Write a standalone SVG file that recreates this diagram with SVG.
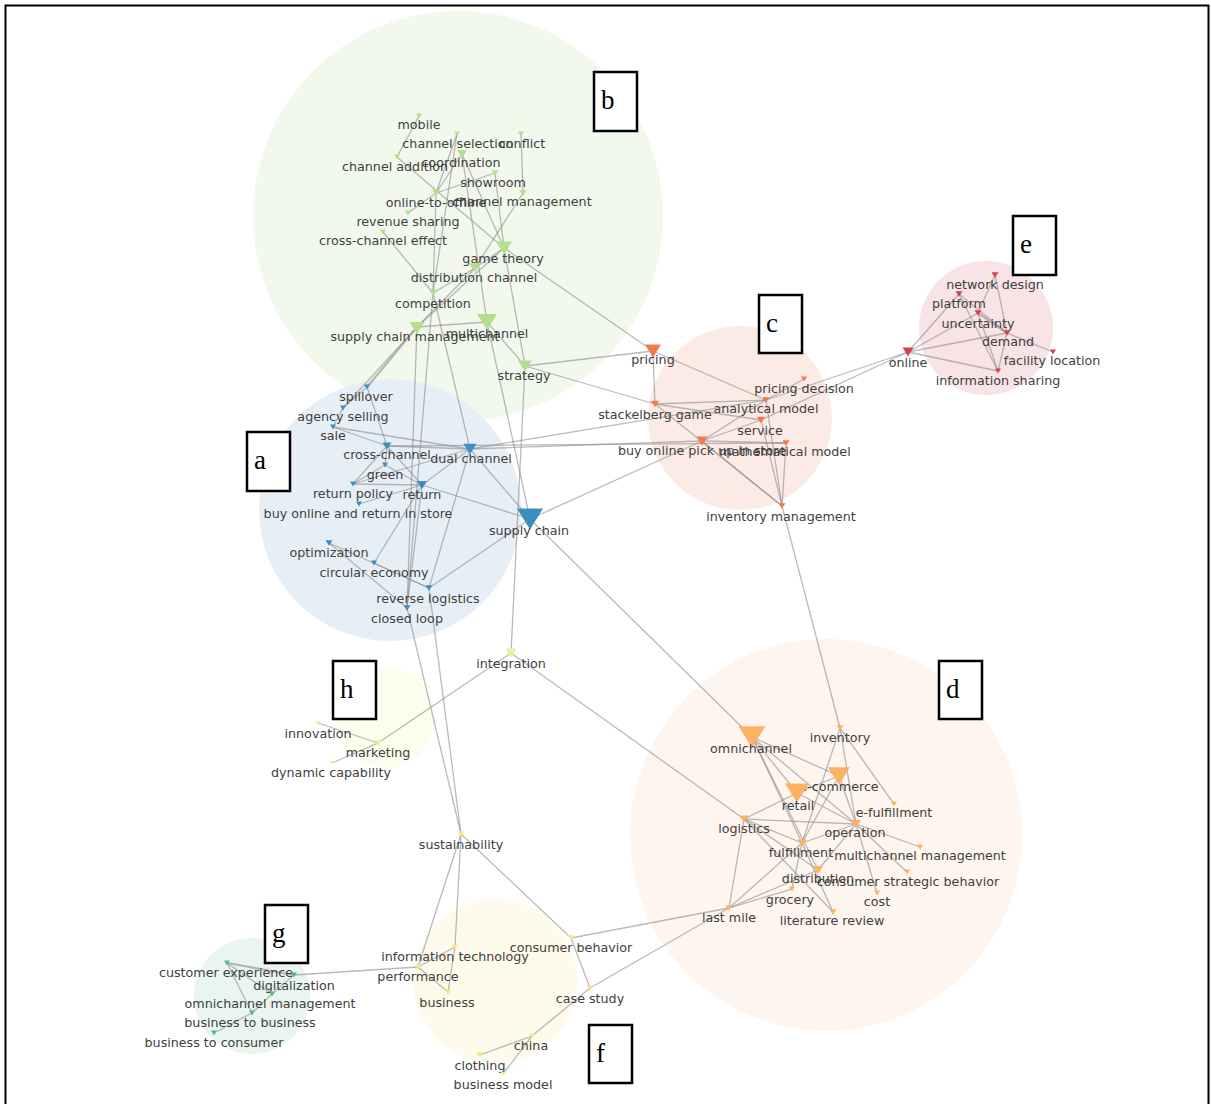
<svg xmlns="http://www.w3.org/2000/svg" width="1211" height="1104" viewBox="0 0 1211 1104">
<style>
.lb{font-family:"DejaVu Sans",Verdana,sans-serif;font-size:12.7px;fill:#404040;text-anchor:middle}
.e line{stroke:#8c8c8c;stroke-opacity:0.6;stroke-width:1.3}
.e line.t{stroke-width:2.2}
.box rect{fill:#fff;stroke:#000;stroke-width:2.5}
.box text{font-family:"Liberation Serif","Times New Roman",serif;font-size:27px;fill:#000}
.ca use{fill:#3a8fc0}.cb use{fill:#b4df8c}.cc use{fill:#f5784a}.cd use{fill:#fdb162}
.ce use{fill:#d9404f}.cf use{fill:#fde28c}.cg use{fill:#52b892}.ch use{fill:#e8f49c}
</style>
<defs><path id="tri" d="M-0.5,-0.4L0.5,-0.4L0,0.4Z"/></defs>
<rect x="0" y="0" width="1211" height="1104" fill="#fff"/>
<rect x="5.5" y="5.5" width="1203" height="1110" fill="none" stroke="#000" stroke-width="2"/>
<g id="clusters">
<circle cx="458" cy="216" r="205" fill="#f3f8ec"/>
<circle cx="390" cy="510" r="131" fill="#e7eff6"/>
<circle cx="740" cy="418" r="92" fill="#fcebe5"/>
<circle cx="986" cy="328" r="67" fill="#f8e3e6"/>
<circle cx="826" cy="835" r="196" fill="#fdf5ee"/>
<circle cx="495" cy="981" r="82" fill="#fefaec"/>
<circle cx="252" cy="996" r="58" fill="#e9f5ef"/>
<circle cx="385" cy="718" r="50" fill="#fdfdee"/>
</g>
<g id="connectors" class="e">
<line x1="419" y1="116" x2="397" y2="157"/><line x1="397" y1="157" x2="504" y2="248"/>
<line x1="457" y1="134" x2="436" y2="193"/><line x1="457" y1="134" x2="433" y2="293"/>
<line x1="521" y1="134" x2="523" y2="193"/><line x1="462" y1="154" x2="487" y2="322"/>
<line x1="462" y1="154" x2="504" y2="248"/><line x1="462" y1="154" x2="436" y2="193"/>
<line x1="495" y1="173" x2="436" y2="193"/><line x1="495" y1="173" x2="504" y2="248"/>
<line x1="523" y1="193" x2="475" y2="268"/><line x1="475" y1="268" x2="417" y2="327"/>
<line x1="436" y1="193" x2="433" y2="293"/><line x1="408" y1="213" x2="436" y2="193"/>
<line x1="383" y1="232" x2="433" y2="293"/><line x1="504" y1="248" x2="653" y2="351"/>
<line x1="504" y1="248" x2="417" y2="327"/><line x1="504" y1="248" x2="475" y2="268"/>
<line x1="475" y1="268" x2="433" y2="293"/><line x1="504" y1="248" x2="525" y2="366"/>
<line x1="417" y1="327" x2="487" y2="322"/><line x1="487" y1="322" x2="525" y2="366"/>
<line x1="525" y1="366" x2="653" y2="351"/><line x1="525" y1="366" x2="655" y2="404"/>
<line x1="525" y1="366" x2="511" y2="653"/><line x1="487" y1="322" x2="530" y2="519"/>
<line x1="433" y1="293" x2="470" y2="449"/><line x1="433" y1="293" x2="407" y2="608"/>
<line x1="417" y1="327" x2="407" y2="608"/><line class="t" x1="417" y1="327" x2="367" y2="387"/>
<line x1="417" y1="327" x2="343" y2="408"/><line x1="367" y1="387" x2="343" y2="408"/>
<line x1="343" y1="408" x2="333" y2="427"/><line x1="367" y1="387" x2="387" y2="446"/>
<line x1="333" y1="427" x2="387" y2="446"/><line x1="333" y1="427" x2="470" y2="449"/>
<line x1="387" y1="446" x2="470" y2="449"/><line x1="387" y1="446" x2="385" y2="465"/>
<line x1="387" y1="446" x2="353" y2="484"/><line x1="387" y1="446" x2="422" y2="485"/>
<line x1="385" y1="465" x2="353" y2="484"/><line x1="385" y1="465" x2="422" y2="485"/>
<line x1="353" y1="484" x2="422" y2="485"/><line x1="470" y1="449" x2="353" y2="484"/>
<line x1="470" y1="449" x2="422" y2="485"/><line x1="470" y1="449" x2="530" y2="519"/>
<line x1="422" y1="485" x2="530" y2="519"/><line x1="359" y1="504" x2="422" y2="485"/>
<line x1="422" y1="485" x2="407" y2="608"/><line x1="470" y1="449" x2="429" y2="588"/>
<line x1="530" y1="519" x2="429" y2="588"/><line x1="329" y1="543" x2="429" y2="588"/>
<line x1="329" y1="543" x2="407" y2="608"/><line x1="374" y1="563" x2="429" y2="588"/>
<line x1="374" y1="563" x2="422" y2="485"/><line x1="407" y1="608" x2="461" y2="834"/>
<line x1="429" y1="588" x2="461" y2="834"/><line x1="387" y1="446" x2="786" y2="443"/>
<line x1="470" y1="449" x2="702" y2="441"/><line x1="470" y1="449" x2="766" y2="400"/>
<line x1="530" y1="519" x2="702" y2="441"/><line x1="530" y1="519" x2="752" y2="737"/>
<line x1="653" y1="351" x2="655" y2="404"/><line x1="653" y1="351" x2="766" y2="400"/>
<line x1="655" y1="404" x2="766" y2="400"/><line x1="655" y1="404" x2="761" y2="420"/>
<line x1="655" y1="404" x2="782" y2="506"/><line x1="702" y1="441" x2="766" y2="400"/>
<line x1="702" y1="441" x2="761" y2="420"/><line x1="702" y1="441" x2="786" y2="443"/>
<line x1="702" y1="441" x2="782" y2="506"/><line x1="766" y1="400" x2="782" y2="506"/>
<line x1="761" y1="420" x2="782" y2="506"/><line x1="786" y1="443" x2="782" y2="506"/>
<line x1="804" y1="379" x2="766" y2="400"/><line x1="908" y1="352" x2="766" y2="400"/>
<line x1="908" y1="352" x2="761" y2="420"/><line x1="782" y1="506" x2="840" y2="728"/>
<line x1="908" y1="352" x2="959" y2="294"/><line x1="908" y1="352" x2="978" y2="313"/>
<line x1="908" y1="352" x2="1007" y2="333"/><line x1="908" y1="352" x2="998" y2="371"/>
<line x1="995" y1="275" x2="1007" y2="333"/><line x1="995" y1="275" x2="978" y2="313"/>
<line x1="959" y1="294" x2="998" y2="371"/><line x1="959" y1="294" x2="1007" y2="333"/>
<line class="t" x1="978" y1="313" x2="1007" y2="333"/><line x1="978" y1="313" x2="998" y2="371"/>
<line x1="1007" y1="333" x2="1053" y2="352"/><line x1="1007" y1="333" x2="998" y2="371"/>
<line x1="840" y1="728" x2="894" y2="804"/><line x1="840" y1="728" x2="856" y2="824"/>
<line x1="840" y1="728" x2="802" y2="843"/><line x1="752" y1="737" x2="839" y2="776"/>
<line x1="752" y1="737" x2="797" y2="793"/><line x1="752" y1="737" x2="856" y2="824"/>
<line x1="752" y1="737" x2="802" y2="843"/><line x1="752" y1="737" x2="818" y2="870"/>
<line x1="839" y1="776" x2="797" y2="793"/><line x1="839" y1="776" x2="856" y2="824"/>
<line x1="839" y1="776" x2="802" y2="843"/><line x1="797" y1="793" x2="744" y2="819"/>
<line x1="797" y1="793" x2="856" y2="824"/><line x1="744" y1="819" x2="856" y2="824"/>
<line x1="744" y1="819" x2="802" y2="843"/><line x1="744" y1="819" x2="818" y2="870"/>
<line x1="744" y1="819" x2="833" y2="912"/><line x1="744" y1="819" x2="729" y2="908"/>
<line x1="856" y1="824" x2="802" y2="843"/><line x1="856" y1="824" x2="920" y2="847"/>
<line x1="856" y1="824" x2="907" y2="872"/><line x1="856" y1="824" x2="877" y2="893"/>
<line x1="856" y1="824" x2="818" y2="870"/><line x1="802" y1="843" x2="729" y2="908"/>
<line x1="802" y1="843" x2="792" y2="889"/><line x1="818" y1="870" x2="729" y2="908"/>
<line x1="792" y1="889" x2="729" y2="908"/><line x1="802" y1="843" x2="833" y2="912"/>
<line x1="511" y1="653" x2="744" y2="819"/><line x1="511" y1="653" x2="378" y2="743"/>
<line x1="318" y1="723" x2="378" y2="743"/><line x1="332" y1="763" x2="378" y2="743"/>
<line x1="461" y1="834" x2="455" y2="947"/><line x1="461" y1="834" x2="418" y2="967"/>
<line x1="461" y1="834" x2="571" y2="938"/><line x1="455" y1="947" x2="418" y2="967"/>
<line x1="455" y1="947" x2="448" y2="992"/><line x1="418" y1="967" x2="448" y2="992"/>
<line x1="571" y1="938" x2="590" y2="988"/><line x1="571" y1="938" x2="729" y2="908"/>
<line x1="590" y1="988" x2="729" y2="908"/><line x1="590" y1="988" x2="532" y2="1036"/>
<line x1="532" y1="1036" x2="480" y2="1055"/><line x1="532" y1="1036" x2="503" y2="1074"/>
<line x1="418" y1="967" x2="294" y2="975"/><line class="t" x1="227" y1="963" x2="294" y2="975"/>
<line x1="227" y1="963" x2="272" y2="994"/><line x1="294" y1="975" x2="272" y2="994"/>
<line x1="272" y1="994" x2="252" y2="1013"/><line x1="252" y1="1013" x2="214" y2="1033"/>
<line x1="227" y1="963" x2="252" y2="1013"/>
</g>
<g id="nodes">
<g id="n-mobile" class="cb"><use href="#tri" transform="translate(419,116) scale(6)"/><text class="lb" x="419" y="129">mobile</text></g>
<g id="n-channel-selection" class="cb"><use href="#tri" transform="translate(457,134) scale(6)"/><text class="lb" x="458" y="148">channel selection</text></g>
<g id="n-conflict" class="cb"><use href="#tri" transform="translate(521,134) scale(6)"/><text class="lb" x="522" y="148">conflict</text></g>
<g id="n-coordination" class="cb"><use href="#tri" transform="translate(462,154) scale(10)"/><text class="lb" x="461" y="167">coordination</text></g>
<g id="n-channel-addition" class="cb"><use href="#tri" transform="translate(397,157) scale(6)"/><text class="lb" x="395" y="171">channel addition</text></g>
<g id="n-showroom" class="cb"><use href="#tri" transform="translate(495,173) scale(7)"/><text class="lb" x="493" y="187">showroom</text></g>
<g id="n-online-to-offline" class="cb"><use href="#tri" transform="translate(436,193) scale(8)"/><text class="lb" x="436" y="207">online-to-offline</text></g>
<g id="n-channel-management" class="cb"><use href="#tri" transform="translate(523,193) scale(7)"/><text class="lb" x="522" y="206">channel management</text></g>
<g id="n-revenue-sharing" class="cb"><use href="#tri" transform="translate(408,213) scale(6)"/><text class="lb" x="408" y="226">revenue sharing</text></g>
<g id="n-cross-channel-effect" class="cb"><use href="#tri" transform="translate(383,232) scale(6)"/><text class="lb" x="383" y="245">cross-channel effect</text></g>
<g id="n-game-theory" class="cb"><use href="#tri" transform="translate(504,248) scale(16)"/><text class="lb" x="503" y="263">game theory</text></g>
<g id="n-distribution-channel" class="cb"><use href="#tri" transform="translate(475,268) scale(12)"/><text class="lb" x="474" y="282">distribution channel</text></g>
<g id="n-competition" class="cb"><use href="#tri" transform="translate(433,293) scale(8)"/><text class="lb" x="433" y="308">competition</text></g>
<g id="n-supply-chain-management" class="cb"><use href="#tri" transform="translate(417,328) scale(15)"/><text class="lb" x="415" y="341">supply chain management</text></g>
<g id="n-multichannel" class="cb"><use href="#tri" transform="translate(487,322) scale(20)"/><text class="lb" x="487" y="338">multichannel</text></g>
<g id="n-strategy" class="cb"><use href="#tri" transform="translate(525,366) scale(14)"/><text class="lb" x="524" y="380">strategy</text></g>

<g id="n-spillover" class="ca"><use href="#tri" transform="translate(367,387) scale(6)"/><text class="lb" x="366" y="401">spillover</text></g>
<g id="n-agency-selling" class="ca"><use href="#tri" transform="translate(343,408) scale(6)"/><text class="lb" x="343" y="421">agency selling</text></g>
<g id="n-sale" class="ca"><use href="#tri" transform="translate(333,427) scale(6)"/><text class="lb" x="333" y="440">sale</text></g>
<g id="n-cross-channel" class="ca"><use href="#tri" transform="translate(387,446) scale(9)"/><text class="lb" x="387" y="459">cross-channel</text></g>
<g id="n-dual-channel" class="ca"><use href="#tri" transform="translate(470,449) scale(13)"/><text class="lb" x="471" y="463">dual channel</text></g>
<g id="n-green" class="ca"><use href="#tri" transform="translate(385,465) scale(6)"/><text class="lb" x="385" y="479">green</text></g>
<g id="n-return-policy" class="ca"><use href="#tri" transform="translate(353,484) scale(6)"/><text class="lb" x="353" y="498">return policy</text></g>
<g id="n-return" class="ca"><use href="#tri" transform="translate(422,485) scale(10)"/><text class="lb" x="422" y="499">return</text></g>
<g id="n-buy-online-and-return-in-store" class="ca"><use href="#tri" transform="translate(359,504) scale(6)"/><text class="lb" x="358" y="518">buy online and return in store</text></g>
<g id="n-supply-chain" class="ca"><use href="#tri" transform="translate(530,519) scale(26)"/><text class="lb" x="529" y="535">supply chain</text></g>
<g id="n-optimization" class="ca"><use href="#tri" transform="translate(329,543) scale(7)"/><text class="lb" x="329" y="557">optimization</text></g>
<g id="n-circular-economy" class="ca"><use href="#tri" transform="translate(374,563) scale(6)"/><text class="lb" x="374" y="577">circular economy</text></g>
<g id="n-reverse-logistics" class="ca"><use href="#tri" transform="translate(429,588) scale(7)"/><text class="lb" x="428" y="603">reverse logistics</text></g>
<g id="n-closed-loop" class="ca"><use href="#tri" transform="translate(407,608) scale(7)"/><text class="lb" x="407" y="623">closed loop</text></g>

<g id="n-pricing" class="cc"><use href="#tri" transform="translate(653,351) scale(16)"/><text class="lb" x="653" y="364">pricing</text></g>
<g id="n-pricing-decision" class="cc"><use href="#tri" transform="translate(804,379) scale(6)"/><text class="lb" x="804" y="393">pricing decision</text></g>
<g id="n-analytical-model" class="cc"><use href="#tri" transform="translate(766,400) scale(7)"/><text class="lb" x="766" y="413">analytical model</text></g>
<g id="n-stackelberg-game" class="cc"><use href="#tri" transform="translate(655,404) scale(8)"/><text class="lb" x="655" y="419">stackelberg game</text></g>
<g id="n-service" class="cc"><use href="#tri" transform="translate(761,420) scale(8)"/><text class="lb" x="760" y="435">service</text></g>
<g id="n-buy-online-pick-up-in-store" class="cc"><use href="#tri" transform="translate(702,441) scale(11)"/><text class="lb" x="702" y="455">buy online pick up in store</text></g>
<g id="n-mathematical-model" class="cc"><use href="#tri" transform="translate(786,443) scale(7)"/><text class="lb" x="785" y="456">mathematical model</text></g>
<g id="n-inventory-management" class="cc"><use href="#tri" transform="translate(782,506) scale(7)"/><text class="lb" x="781" y="521">inventory management</text></g>

<g id="n-network-design" class="ce"><use href="#tri" transform="translate(995,275) scale(7)"/><text class="lb" x="995" y="289">network design</text></g>
<g id="n-platform" class="ce"><use href="#tri" transform="translate(959,294) scale(7)"/><text class="lb" x="959" y="308">platform</text></g>
<g id="n-uncertainty" class="ce"><use href="#tri" transform="translate(978,313) scale(7)"/><text class="lb" x="978" y="328">uncertainty</text></g>
<g id="n-demand" class="ce"><use href="#tri" transform="translate(1007,333) scale(7)"/><text class="lb" x="1008" y="346">demand</text></g>
<g id="n-facility-location" class="ce"><use href="#tri" transform="translate(1053,352) scale(6)"/><text class="lb" x="1052" y="365">facility location</text></g>
<g id="n-online" class="ce"><use href="#tri" transform="translate(908,352) scale(11)"/><text class="lb" x="908" y="367">online</text></g>
<g id="n-information-sharing" class="ce"><use href="#tri" transform="translate(998,371) scale(6)"/><text class="lb" x="998" y="385">information sharing</text></g>

<g id="n-omnichannel" class="cd"><use href="#tri" transform="translate(752,737) scale(27)"/><text class="lb" x="751" y="753">omnichannel</text></g>
<g id="n-inventory" class="cd"><use href="#tri" transform="translate(840,728) scale(7)"/><text class="lb" x="840" y="742">inventory</text></g>
<g id="n-e-commerce" class="cd"><use href="#tri" transform="translate(839,776) scale(22)"/><text class="lb" x="839" y="791">e-commerce</text></g>
<g id="n-retail" class="cd"><use href="#tri" transform="translate(797,793) scale(24)"/><text class="lb" x="798" y="810">retail</text></g>
<g id="n-e-fulfillment" class="cd"><use href="#tri" transform="translate(894,804) scale(6)"/><text class="lb" x="894" y="817">e-fulfillment</text></g>
<g id="n-logistics" class="cd"><use href="#tri" transform="translate(744,819) scale(9)"/><text class="lb" x="744" y="833">logistics</text></g>
<g id="n-operation" class="cd"><use href="#tri" transform="translate(856,824) scale(10)"/><text class="lb" x="855" y="837">operation</text></g>
<g id="n-multichannel-management" class="cd"><use href="#tri" transform="translate(920,847) scale(6)"/><text class="lb" x="920" y="860">multichannel management</text></g>
<g id="n-fulfillment" class="cd"><use href="#tri" transform="translate(802,843) scale(9)"/><text class="lb" x="801" y="857">fulfillment</text></g>
<g id="n-distribution" class="cd"><use href="#tri" transform="translate(818,870) scale(10)"/><text class="lb" x="818" y="883">distribution</text></g>
<g id="n-consumer-strategic-behavior" class="cd"><use href="#tri" transform="translate(907,872) scale(6)"/><text class="lb" x="908" y="886">consumer strategic behavior</text></g>
<g id="n-grocery" class="cd"><use href="#tri" transform="translate(792,889) scale(6)"/><text class="lb" x="790" y="904">grocery</text></g>
<g id="n-cost" class="cd"><use href="#tri" transform="translate(877,893) scale(6)"/><text class="lb" x="877" y="906">cost</text></g>
<g id="n-last-mile" class="cd"><use href="#tri" transform="translate(729,908) scale(7)"/><text class="lb" x="729" y="922">last mile</text></g>
<g id="n-literature-review" class="cd"><use href="#tri" transform="translate(833,912) scale(7)"/><text class="lb" x="832" y="925">literature review</text></g>

<g id="n-integration" class="ch"><use href="#tri" transform="translate(511,653) scale(11)"/><text class="lb" x="511" y="668">integration</text></g>
<g id="n-innovation" class="ch"><use href="#tri" transform="translate(318,723) scale(5)"/><text class="lb" x="318" y="738">innovation</text></g>
<g id="n-marketing" class="ch"><use href="#tri" transform="translate(378,743) scale(7)"/><text class="lb" x="378" y="757">marketing</text></g>
<g id="n-dynamic-capability" class="ch"><use href="#tri" transform="translate(332,763) scale(5)"/><text class="lb" x="331" y="777">dynamic capability</text></g>

<g id="n-sustainability" class="cf"><use href="#tri" transform="translate(461,834) scale(7)"/><text class="lb" x="461" y="849">sustainability</text></g>
<g id="n-information-technology" class="cf"><use href="#tri" transform="translate(455,947) scale(6)"/><text class="lb" x="455" y="961">information technology</text></g>
<g id="n-consumer-behavior" class="cf"><use href="#tri" transform="translate(571,938) scale(7)"/><text class="lb" x="571" y="952">consumer behavior</text></g>
<g id="n-performance" class="cf"><use href="#tri" transform="translate(418,967) scale(6)"/><text class="lb" x="418" y="981">performance</text></g>
<g id="n-business" class="cf"><use href="#tri" transform="translate(448,992) scale(7)"/><text class="lb" x="447" y="1007">business</text></g>
<g id="n-case-study" class="cf"><use href="#tri" transform="translate(590,988) scale(7)"/><text class="lb" x="590" y="1003">case study</text></g>
<g id="n-china" class="cf"><use href="#tri" transform="translate(532,1036) scale(6)"/><text class="lb" x="531" y="1050">china</text></g>
<g id="n-clothing" class="cf"><use href="#tri" transform="translate(480,1055) scale(7)"/><text class="lb" x="480" y="1070">clothing</text></g>
<g id="n-business-model" class="cf"><use href="#tri" transform="translate(503,1074) scale(5)"/><text class="lb" x="503" y="1089">business model</text></g>

<g id="n-customer-experience" class="cg"><use href="#tri" transform="translate(227,963) scale(6)"/><text class="lb" x="226" y="977">customer experience</text></g>
<g id="n-digitalization" class="cg"><use href="#tri" transform="translate(294,975) scale(6)"/><text class="lb" x="294" y="990">digitalization</text></g>
<g id="n-omnichannel-management" class="cg"><use href="#tri" transform="translate(272,994) scale(6)"/><text class="lb" x="270" y="1008">omnichannel management</text></g>
<g id="n-business-to-business" class="cg"><use href="#tri" transform="translate(252,1013) scale(6)"/><text class="lb" x="250" y="1027">business to business</text></g>
<g id="n-business-to-consumer" class="cg"><use href="#tri" transform="translate(214,1033) scale(6)"/><text class="lb" x="214" y="1047">business to consumer</text></g>
</g>
<g id="cluster-labels" class="box">
<g id="lbl-a"><rect x="247" y="432" width="43" height="59"/><text x="254" y="469">a</text></g>
<g id="lbl-b"><rect x="594" y="72" width="43" height="59"/><text x="601" y="109">b</text></g>
<g id="lbl-c"><rect x="759" y="295" width="43" height="58"/><text x="766" y="332">c</text></g>
<g id="lbl-d"><rect x="939" y="661" width="43" height="58"/><text x="946" y="698">d</text></g>
<g id="lbl-e"><rect x="1013" y="216" width="43" height="59"/><text x="1020" y="253">e</text></g>
<g id="lbl-f"><rect x="589" y="1025" width="43" height="58"/><text x="596" y="1062">f</text></g>
<g id="lbl-g"><rect x="265" y="905" width="43" height="58"/><text x="272" y="942">g</text></g>
<g id="lbl-h"><rect x="333" y="661" width="43" height="58"/><text x="340" y="698">h</text></g>
</g>
</svg>
